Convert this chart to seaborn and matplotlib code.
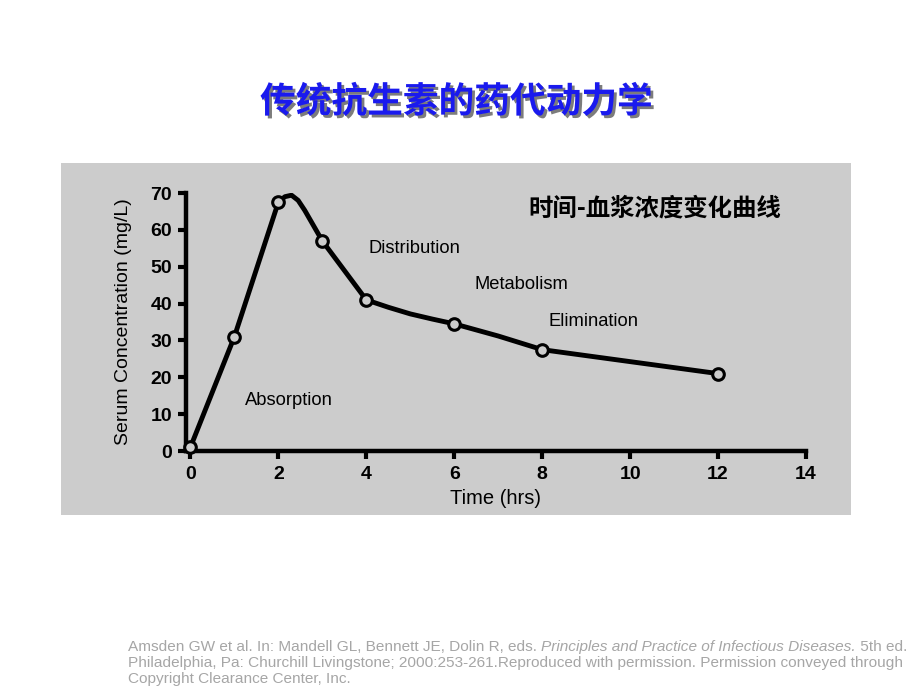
import matplotlib
matplotlib.use("Agg")
import matplotlib.pyplot as plt
import matplotlib.patheffects as pe
from matplotlib.patches import Rectangle
import seaborn as sns
import pandas as pd

# ---- data ----
time_points = [0, 1, 2, 3, 4, 6, 8, 12]
conc_points = [1, 31, 67.5, 57, 41, 34.5, 27.5, 21]
# smooth curve readings (curve drawn through points)
curve_time = [0, 1, 2, 2.15, 2.3, 2.45, 2.6, 3, 3.5, 4, 4.5, 5, 5.5, 6, 7, 8, 12]
curve_conc = [1, 31, 67.5, 69.0, 69.4, 68.0, 65.3, 57, 49, 41, 39, 37.2, 35.8, 34.5, 31.2, 27.5, 21]
x_ticks = [0, 2, 4, 6, 8, 10, 12, 14]
y_ticks = [0, 10, 20, 30, 40, 50, 60, 70]
phase_labels = ["Absorption", "Distribution", "Metabolism", "Elimination"]
phase_x = [1.23, 4.05, 6.45, 8.14]
phase_y = [13.8, 55.0, 45.3, 35.2]

sns.set_theme(style="white")
plt.rcParams['font.family'] = ['Liberation Sans', 'Noto Sans CJK SC', 'DejaVu Sans']

fig = plt.figure(figsize=(9.2, 6.9), dpi=100)
fig.patch.set_facecolor("white")

# gray panel
fig.patches.append(Rectangle((61/920, 1-515/690), (851-61)/920, (515-163)/690,
                             transform=fig.transFigure, facecolor="#cccccc",
                             edgecolor="none", zorder=-5))

ax = fig.add_axes([186/920, 1-451/690, (806-186)/920, (451-193)/690])
ax.set_zorder(2)
ax.set_facecolor("none")
ax.patch.set_alpha(0)

curve_df = pd.DataFrame({"t": curve_time, "c": curve_conc})
sns.lineplot(data=curve_df, x="t", y="c", ax=ax, color="black", linewidth=3.5,
             sort=False, estimator=None)
pts_df = pd.DataFrame({"t": time_points, "c": conc_points})
sns.scatterplot(data=pts_df, x="t", y="c", ax=ax, s=70, facecolor="#cccccc",
                edgecolor="black", linewidth=2.2, zorder=5, clip_on=False)

ax.set_xlim(-0.1, 14)
ax.set_ylim(0, 70)
ax.set_xticks(x_ticks)
ax.set_yticks(y_ticks)
ax.tick_params(axis="both", bottom=True, left=True, labelsize=14, length=6,
               width=3, color="black", direction="out", labelcolor="black")
ax.tick_params(axis="x", pad=5)
ax.tick_params(axis="y", pad=4)
for lab in ax.get_xticklabels() + ax.get_yticklabels():
    lab.set_fontweight("bold")
for s in ["top", "right"]:
    ax.spines[s].set_visible(False)
for s in ["left", "bottom"]:
    ax.spines[s].set_linewidth(3.2)
    ax.spines[s].set_color("black")
ax.set_xlabel("Time (hrs)", fontsize=14.5, labelpad=4, color="black")
ax.set_ylabel("Serum Concentration (mg/L)", fontsize=14, labelpad=13, color="black")

for lab, x, y in zip(phase_labels, phase_x, phase_y):
    ax.text(x, y, lab, fontsize=13.2, ha="left", va="center", color="black")

fig.text(528/920, 1-208/690, "时间-血浆浓度变化曲线", fontsize=17.6,
         fontweight="bold", ha="left", va="center", color="black",
         family=['Noto Sans CJK SC', 'DejaVu Sans'])

fig.text(456/920, 1-102/690, "传统抗生素的药代动力学", fontsize=25.7,
         fontweight="bold", ha="center", va="center", color="#1a1aee",
         family=['Noto Sans CJK SC', 'DejaVu Sans'],
         path_effects=[pe.SimplePatchShadow(offset=(2, -2), shadow_rgbFace="#444444", alpha=0.7),
                       pe.Normal()])

# footer citation
foot_kw = dict(fontsize=11.05, color="#a6a6a6", va="center", ha="left",
               family=['Liberation Sans', 'DejaVu Sans'])
fig.canvas.draw()
renderer = fig.canvas.get_renderer()
x0 = 128/920
y1 = 1-647/690
t1 = fig.text(x0, y1, "Amsden GW et al. In: Mandell GL, Bennett JE, Dolin R, eds. ", **foot_kw)
bb = t1.get_window_extent(renderer)
x1 = x0 + bb.width/920
t2 = fig.text(x1, y1, "Principles and Practice of Infectious Diseases.", style="italic", **foot_kw)
bb2 = t2.get_window_extent(renderer)
x2 = x1 + bb2.width/920
fig.text(x2, y1, " 5th ed.", **foot_kw)
fig.text(x0, 1-663/690, "Philadelphia, Pa: Churchill Livingstone; 2000:253-261.Reproduced with permission. Permission conveyed through", **foot_kw)
fig.text(x0, 1-679/690, "Copyright Clearance Center, Inc.", **foot_kw)

fig.savefig("out.png", dpi=100, facecolor="white")
